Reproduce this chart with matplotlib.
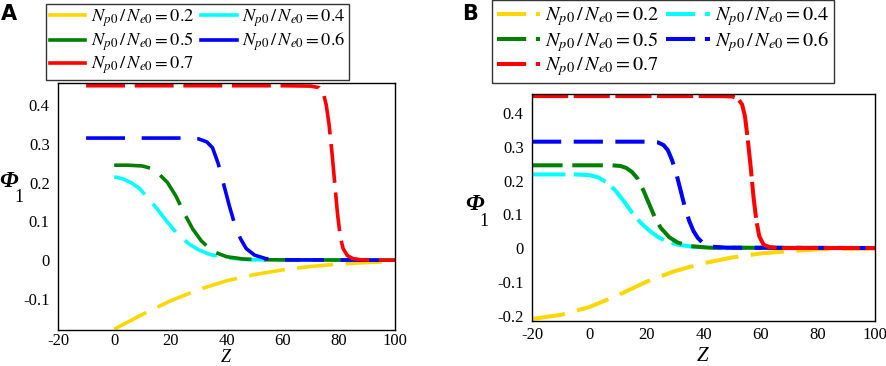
import matplotlib
matplotlib.use('Agg')
import matplotlib.pyplot as plt
from matplotlib.lines import Line2D

plt.rcParams['font.family'] = 'Liberation Serif'
plt.rcParams['mathtext.fontset'] = 'stix'
plt.rcParams['lines.scale_dashes'] = False

ratios = ['0.2', '0.4', '0.5', '0.6', '0.7']
colors = ['#FFD700', '#00FFFF', '#008000', '#0000FF', '#FF0000']

# Panel A curves (Z, Phi_1)
zA_y = [0, 10, 20, 30, 40, 50, 60, 70, 80, 90, 97]
pA_y = [-0.178, -0.14, -0.105, -0.076, -0.053, -0.037, -0.025, -0.016, -0.01, -0.006, -0.004]
zA_c = [0, 3, 6, 9, 12, 15, 18, 21, 24, 27, 30, 34, 40, 48, 100]
pA_c = [0.215, 0.21, 0.2, 0.185, 0.16, 0.135, 0.107, 0.08, 0.058, 0.04, 0.027, 0.015, 0.006, 0.001, 0]
zA_g = [0, 5, 10, 13, 16, 19, 22, 25, 28, 31, 35, 40, 46, 55, 100]
pA_g = [0.245, 0.245, 0.243, 0.237, 0.222, 0.2, 0.165, 0.12, 0.08, 0.05, 0.023, 0.009, 0.003, 0.001, 0]
zA_b = [-10, 25, 30, 33, 35, 37, 39, 41, 43, 45, 47, 50, 54, 60, 95]
pA_b = [0.315, 0.315, 0.313, 0.305, 0.29, 0.25, 0.195, 0.14, 0.09, 0.055, 0.03, 0.013, 0.004, 0.001, 0]
zA_r = [-10, 60, 70, 73, 74.5, 75.5, 76.5, 77.5, 78.5, 79.5, 80.5, 81.5, 83, 85, 88, 92, 100]
pA_r = [0.45, 0.45, 0.449, 0.445, 0.43, 0.40, 0.35, 0.28, 0.20, 0.12, 0.06, 0.03, 0.012, 0.004, 0.001, 0, 0]

# Panel B curves
zB_y = [-20, -10, 0, 10, 20, 30, 40, 50, 60, 70, 80, 90, 100]
pB_y = [-0.21, -0.198, -0.175, -0.14, -0.1, -0.068, -0.045, -0.028, -0.016, -0.009, -0.004, -0.002, -0.001]
zB_c = [-20, -5, 0, 3, 6, 9, 12, 15, 18, 21, 24, 27, 31, 36, 44, 100]
pB_c = [0.218, 0.218, 0.216, 0.21, 0.195, 0.172, 0.14, 0.105, 0.075, 0.052, 0.033, 0.02, 0.01, 0.004, 0.001, 0]
zB_g = [-20, 8, 11, 13, 15, 17, 19, 21, 23, 25, 28, 31, 35, 42, 100]
pB_g = [0.245, 0.245, 0.243, 0.237, 0.225, 0.205, 0.17, 0.13, 0.09, 0.06, 0.032, 0.016, 0.006, 0.001, 0]
zB_b = [-20, 20, 24, 26, 27.5, 29, 30.5, 32, 33.5, 35, 36.5, 38, 40, 43, 48, 100]
pB_b = [0.315, 0.315, 0.313, 0.305, 0.29, 0.26, 0.22, 0.17, 0.12, 0.08, 0.05, 0.03, 0.013, 0.004, 0.001, 0]
zB_r = [-20, 45, 50, 52, 53.5, 54.5, 55.5, 56.5, 57.5, 58.5, 59.5, 61, 63, 66, 100]
pB_r = [0.45, 0.45, 0.449, 0.443, 0.425, 0.39, 0.32, 0.24, 0.15, 0.08, 0.035, 0.01, 0.003, 0, 0]

curvesA = [(zA_y, pA_y), (zA_c, pA_c), (zA_g, pA_g), (zA_b, pA_b), (zA_r, pA_r)]
curvesB = [(zB_y, pB_y), (zB_c, pB_c), (zB_g, pB_g), (zB_b, pB_b), (zB_r, pB_r)]

xticks = [-20, 0, 20, 40, 60, 80, 100]
yticksA = [-0.1, 0, 0.1, 0.2, 0.3, 0.4]
yticksB = [-0.2, -0.1, 0, 0.1, 0.2, 0.3, 0.4]


def label(r):
    return r'$N_{\mathit{p0}}\,/\,N_{\mathit{e0}}=$' + r'$\mathrm{' + r + '}$'


def fmt(v):
    if v == 0:
        return '0'
    return ('%g' % v)


def style_axes(ax, ylim, yticks, xpad):
    ax.set_xlim(-20, 100)
    ax.set_ylim(*ylim)
    ax.set_xticks(xticks)
    ax.set_xticklabels([fmt(t) for t in xticks])
    ax.set_yticks(yticks)
    ax.set_yticklabels([fmt(t) for t in yticks])
    ax.tick_params(length=0, labelsize=12, pad=6)
    ax.tick_params(axis='x', pad=xpad)
    for s in ax.spines.values():
        s.set_linewidth(1.0)


def phi_label(x, y):
    fig.text(x, y, 'Φ', fontsize=17, fontstyle='italic', fontweight='bold',
             ha='center', va='center')
    fig.text(x + 0.011, y - 0.045, '1', fontsize=13, ha='center', va='center')


fig = plt.figure(figsize=(8.86, 3.66), dpi=100)
order = [0, 2, 4, 1, 3]

# ---- panel A
axA = fig.add_axes([0.0655, 0.0984, 0.3804, 0.6748])
dashA = [(0, (26, 9)), (0, (26, 9)), (0, (26, 9)), (0, (28, 12)), (0, (28, 7))]
for (z, p), c, d in zip(curvesA, colors, dashA):
    axA.plot(z, p, color=c, lw=2.6, linestyle=d)
style_axes(axA, (-0.18, 0.457), yticksA, 2)

handlesA = [Line2D([], [], color=c, lw=2.6) for c in colors]
fig.legend([handlesA[i] for i in order], [label(ratios[i]) for i in order],
           ncol=2, loc='upper left', bbox_to_anchor=(0.052, 0.989), borderaxespad=0,
           fontsize=13.2, handlelength=1.95, handletextpad=0.3, columnspacing=0.35,
           labelspacing=0.08, borderpad=0.2, frameon=True, fancybox=False,
           edgecolor='#333333', framealpha=1)
fig.text(0.010, 0.962, 'A', fontsize=15, fontweight='bold', family='DejaVu Sans',
         ha='center', va='center')
phi_label(0.010, 0.505)
fig.text(0.255, 0.022, 'Z', fontsize=13, fontstyle='italic', ha='center', va='center')

# ---- panel B
axB = fig.add_axes([0.6005, 0.123, 0.3871, 0.620])
dashB = [(0, (24, 9)), (0, (24, 6)), (0, (22, 7)), (0, (21, 9)), (0, (26, 4))]
for (z, p), c, d in zip(curvesB, colors, dashB):
    axB.plot(z, p, color=c, lw=2.9, linestyle=d)
style_axes(axB, (-0.216, 0.456), yticksB, 4)

handlesB = [Line2D([], [], color=c, lw=2.9, linestyle=(0, (21, 7, 4, 40))) for c in colors]
fig.legend([handlesB[i] for i in order], [label(ratios[i]) for i in order],
           ncol=2, loc='upper left', bbox_to_anchor=(0.555, 0.999), borderaxespad=0,
           fontsize=14.6, handlelength=2.15, handletextpad=0.25, columnspacing=0.35,
           labelspacing=0.08, borderpad=0.25, frameon=True, fancybox=False,
           edgecolor='#333333', framealpha=1)
fig.text(0.530, 0.962, 'B', fontsize=15, fontweight='bold', family='DejaVu Sans',
         ha='center', va='center')
phi_label(0.535, 0.440)
fig.text(0.793, 0.027, 'Z', fontsize=15, fontstyle='italic', ha='center', va='center')

plt.savefig('out.png', dpi=100)
